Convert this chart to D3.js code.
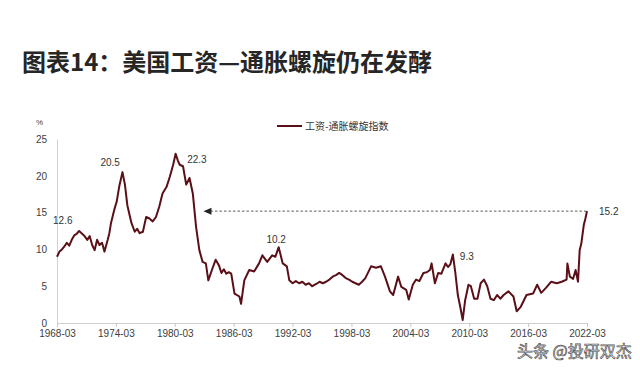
<!DOCTYPE html>
<html>
<head>
<meta charset="utf-8">
<script src="https://cdn.jsdelivr.net/npm/d3@7"></script>
<style>
  body { margin: 0; background: #fff; }
  svg { display: block; font-family: "Liberation Sans", Arial, sans-serif; }
</style>
</head>
<body>
<script>
// values (index, %)
var dates = [
  "1968-03","1968-06","1968-09","1968-12","1969-03","1969-06","1969-09","1969-12",
  "1970-03","1970-06","1970-09","1970-12","1971-02","1971-04","1971-07","1971-10",
  "1972-01","1972-04","1972-07","1972-10","1973-01","1973-05","1973-07","1973-09",
  "1974-01","1974-04","1974-07","1974-11","1975-02","1975-05","1975-10","1976-02",
  "1976-05","1976-08","1976-12","1977-04","1977-08","1977-12","1978-04","1978-08",
  "1978-12","1979-05","1979-09","1980-01","1980-04","1980-07","1980-09","1981-01",
  "1981-05","1981-09","1982-01","1982-05","1982-09","1983-01","1983-05","1983-08",
  "1984-01","1984-05","1984-09","1984-12","1985-03","1985-06","1985-09","1985-12",
  "1986-04","1986-10","1986-12","1987-04","1987-10","1988-04","1988-10","1989-02",
  "1989-08","1990-02","1990-06","1990-10","1991-03","1991-08","1991-11","1992-03",
  "1992-07","1992-11","1993-03","1993-07","1993-11","1994-03","1994-08","1994-12",
  "1995-04","1995-08","1995-12","1996-04","1996-08","1996-12","1997-04","1997-08",
  "1997-12","1998-04","1998-08","1998-12","1999-04","1999-08","2000-03","2000-09",
  "2001-03","2001-08","2002-02","2002-06","2002-12","2003-04","2003-10","2004-01",
  "2004-06","2004-10","2005-02","2005-07","2005-11","2006-03","2006-05","2006-09",
  "2007-01","2007-05","2007-10","2008-01","2008-04","2008-07","2008-10","2009-01",
  "2009-04","2009-07","2009-10","2010-02","2010-05","2010-09","2011-01","2011-05",
  "2011-09","2012-01","2012-05","2012-09","2013-01","2013-05","2013-09","2014-03",
  "2014-09","2015-01","2015-06","2016-01","2016-09","2017-02","2017-07","2018-01",
  "2018-07","2019-02","2019-08","2020-02","2020-03","2020-06","2020-10","2021-01",
  "2021-04","2021-06","2021-08","2021-11","2022-01","2022-03"
];
var values = [
  9.0, 9.7, 10.0, 10.4, 10.9, 10.5, 11.3, 11.9,
  12.1, 12.5, 12.2, 11.9, 11.6, 11.3, 11.8, 10.6,
  9.9, 11.3, 10.6, 10.9, 9.7, 11.3, 12.2, 13.6,
  15.4, 16.5, 18.5, 20.5, 18.8, 16.0, 13.6, 12.4,
  12.8, 12.2, 12.4, 14.4, 14.2, 13.8, 14.4, 15.8,
  17.6, 18.5, 19.9, 21.5, 23.0, 22.0, 21.5, 21.3,
  18.8, 19.7, 17.6, 13.1, 9.9, 8.3, 8.1, 5.8,
  7.4, 8.6, 7.8, 6.8, 7.3, 6.7, 6.9, 6.7,
  4.0, 3.6, 2.6, 5.8, 7.2, 7.0, 8.1, 9.2,
  8.3, 9.2, 9.0, 10.3, 8.1, 7.7, 5.8, 5.4,
  5.7, 5.4, 5.6, 5.2, 5.4, 5.0, 5.3, 5.6,
  5.4, 5.6, 5.9, 6.3, 6.5, 6.8, 6.5, 6.1,
  5.9, 5.6, 5.4, 5.2, 5.6, 6.1, 7.7, 7.5,
  7.7, 6.3, 4.3, 3.8, 6.3, 4.9, 4.5, 3.2,
  5.2, 5.9, 5.7, 6.8, 6.9, 7.2, 8.1, 5.4,
  6.8, 6.7, 8.1, 7.6, 8.0, 9.3, 6.8, 3.8,
  2.2, 0.4, 3.1, 5.2, 5.0, 3.3, 3.3, 5.4,
  5.9, 5.0, 3.3, 3.1, 3.8, 3.3, 3.8, 4.3,
  3.6, 1.6, 2.2, 3.8, 4.0, 5.2, 4.1, 4.8,
  5.6, 5.4, 5.6, 5.9, 8.1, 6.3, 6.0, 7.2,
  5.6, 9.9, 10.8, 13.3, 14.2, 15.2
];

var xTicks = ["1968-03","1974-03","1980-03","1986-03","1992-03","1998-03","2004-03","2010-03","2016-03","2022-03"];
var yTicks = [0, 5, 10, 15, 20, 25];

// point labels (placed where the picture shows them)
var labelDates = ["1968-10","1973-08","1982-06","1990-07","2009-12","2022-03"];
var labelValues = [12.6, 20.5, 22.3, 10.2, 9.3, 15.2];
var labelYs = [13.9, 21.8, 22.2, 11.3, 9.1, 15.1];

var arrowFrom = "1983-02";

var width = 640, height = 371;
var margin = { top: 139, right: 53, bottom: 48, left: 57 };
var lineColor = "#5a1016";

var parse = d3.timeParse("%Y-%m");
var fmt = d3.timeFormat("%Y-%m");

var data = dates.map(function(d, i) { return { date: parse(d), value: values[i] }; });

var svg = d3.select("body").append("svg")
  .attr("width", width)
  .attr("height", height);

// title
svg.append("text")
  .attr("x", 22)
  .attr("y", 71)
  .attr("font-family", "'Noto Sans CJK SC', sans-serif")
  .attr("font-weight", "bold")
  .attr("font-size", 24)
  .attr("fill", "#262626")
  .text("图表14：美国工资—通胀螺旋仍在发酵");

var xScale = d3.scaleTime()
  .domain([parse("1968-03"), parse("2022-03")])
  .range([margin.left, width - margin.right]);

var yScale = d3.scaleLinear()
  .domain([0, 25])
  .range([height - margin.bottom, margin.top]);

// x axis
var xAxis = d3.axisBottom(xScale)
  .tickValues(xTicks.map(parse))
  .tickFormat(fmt)
  .tickSize(4)
  .tickPadding(3);

var gx = svg.append("g")
  .attr("transform", "translate(0," + yScale(0) + ")")
  .call(xAxis);
gx.select(".domain").attr("stroke", "#d0d0d0");
gx.selectAll(".tick line").attr("stroke", "#c8c8c8");
gx.selectAll(".tick text")
  .attr("fill", "#404040")
  .attr("font-size", 10)
  .attr("font-family", "'Liberation Sans', Arial, sans-serif");

// y axis
var yAxis = d3.axisLeft(yScale)
  .tickValues(yTicks)
  .tickSize(0)
  .tickPadding(10);

var gy = svg.append("g")
  .attr("transform", "translate(" + margin.left + ",0)")
  .call(yAxis);
gy.select(".domain").attr("stroke", "#d0d0d0");
gy.selectAll(".tick text")
  .attr("fill", "#404040")
  .attr("font-size", 10)
  .attr("font-family", "'Liberation Sans', Arial, sans-serif");

svg.append("text")
  .attr("x", 36)
  .attr("y", 125)
  .attr("font-size", 8)
  .attr("fill", "#404040")
  .text("%");

// dashed reference line with arrow
var last = data[data.length - 1];
svg.append("line")
  .attr("x1", xScale(parse(arrowFrom)) + 7)
  .attr("x2", xScale(last.date))
  .attr("y1", yScale(last.value))
  .attr("y2", yScale(last.value))
  .attr("stroke", "#333")
  .attr("stroke-width", 0.8)
  .attr("stroke-dasharray", "2.5,2");

var ax = xScale(parse(arrowFrom)), ay = yScale(last.value);
svg.append("path")
  .attr("d", "M" + ax + "," + ay + "L" + (ax + 8) + "," + (ay - 3.5) + "L" + (ax + 8) + "," + (ay + 3.5) + "Z")
  .attr("fill", "#222");

// series line
var line = d3.line()
  .x(function(d) { return xScale(d.date); })
  .y(function(d) { return yScale(d.value); });

svg.append("path")
  .datum(data)
  .attr("fill", "none")
  .attr("stroke", lineColor)
  .attr("stroke-width", 2)
  .attr("stroke-linejoin", "round")
  .attr("d", line);

// value labels
svg.selectAll(".vlabel")
  .data(labelDates)
  .enter().append("text")
  .attr("class", "vlabel")
  .attr("x", function(d, i) { return xScale(parse(d)) + (i == 5 ? 12 : 0); })
  .attr("y", function(d, i) { return yScale(labelYs[i]) + 3.5; })
  .attr("text-anchor", function(d, i) { return i == 5 ? "start" : "middle"; })
  .attr("font-size", 10)
  .attr("fill", "#333")
  .text(function(d, i) { return labelValues[i].toFixed(1); });

// legend
svg.append("line")
  .attr("x1", 277).attr("x2", 302)
  .attr("y1", 126).attr("y2", 126)
  .attr("stroke", lineColor)
  .attr("stroke-width", 2);
svg.append("text")
  .attr("x", 305)
  .attr("y", 130)
  .attr("font-family", "'Noto Sans CJK SC', sans-serif")
  .attr("font-size", 10)
  .attr("fill", "#333")
  .text("工资-通胀螺旋指数");

// watermark
svg.append("text")
  .attr("x", 517)
  .attr("y", 357)
  .attr("font-family", "'Noto Sans CJK SC', sans-serif")
  .attr("font-size", 16)
  .attr("fill", "#fff")
  .attr("stroke", "#555")
  .attr("stroke-width", 0.7)
  .text("头条 @投研双杰");
</script>
</body>
</html>
